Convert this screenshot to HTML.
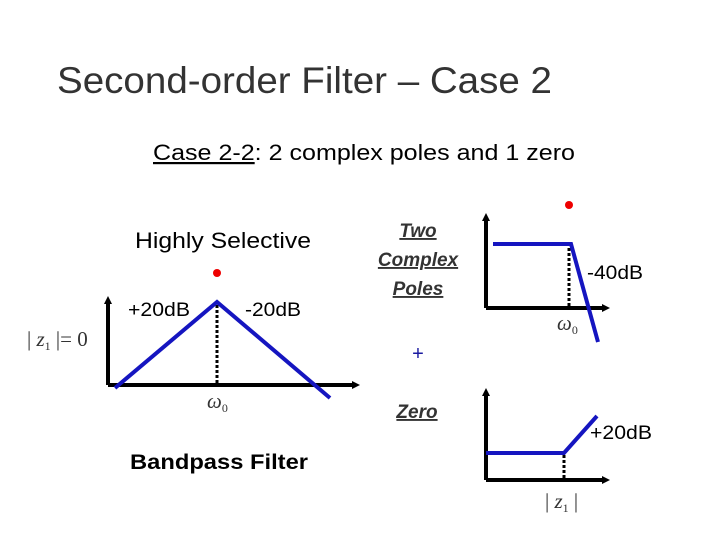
<!DOCTYPE html>
<html><head><meta charset="utf-8"><style>
body{margin:0;width:720px;height:540px;background:#fff;overflow:hidden;font-family:"Liberation Sans",sans-serif}
</style></head><body>
<svg width="720" height="540" xmlns="http://www.w3.org/2000/svg" font-family="Liberation Sans, sans-serif">
<defs><marker id="a" markerWidth="8" markerHeight="8" refX="4" refY="4" orient="auto" markerUnits="userSpaceOnUse"><path d="M0,0 L8,4 L0,8 z" fill="#000"/></marker></defs>
<text x="57" y="93" font-size="37" fill="#333" textLength="495" lengthAdjust="spacingAndGlyphs">Second-order Filter – Case 2</text>
<text x="153" y="160" font-size="22" textLength="422" lengthAdjust="spacingAndGlyphs"><tspan text-decoration="underline">Case 2-2</tspan>: 2 complex poles and 1 zero</text>
<text x="135" y="248" font-size="22" textLength="176" lengthAdjust="spacingAndGlyphs">Highly Selective</text>
<text x="130" y="469" font-size="21" font-weight="bold" textLength="178" lengthAdjust="spacingAndGlyphs">Bandpass Filter</text>
<g font-size="19" font-style="italic" font-weight="bold" text-anchor="middle" fill="#333" text-decoration="underline">
<text x="418" y="237">Two</text><text x="418" y="266">Complex</text><text x="418" y="295">Poles</text>
<text x="417" y="418">Zero</text></g>
<text x="418" y="360" font-size="20" fill="#1a1aa0" text-anchor="middle">+</text>
<line x1="108" y1="385" x2="108" y2="300" stroke="#000" stroke-width="4" marker-end="url(#a)"/>
<line x1="108" y1="385" x2="356" y2="385" stroke="#000" stroke-width="4" marker-end="url(#a)"/>
<line x1="217" y1="305" x2="217" y2="385" stroke="#000" stroke-width="3" stroke-dasharray="3,2"/>
<polyline points="115,388 217,302 330,398" fill="none" stroke="#1515c0" stroke-width="4"/>
<circle cx="217" cy="273" r="4" fill="#e00"/>
<text x="128" y="316" font-size="19" textLength="62" lengthAdjust="spacingAndGlyphs">+20dB</text>
<text x="245" y="316" font-size="19" textLength="56" lengthAdjust="spacingAndGlyphs">-20dB</text>
<text x="27" y="346" font-size="21" font-family="Liberation Serif,serif" fill="#333">| <tspan font-style="italic">z</tspan><tspan font-size="12" dy="4">1</tspan><tspan dy="-4"> |= 0</tspan></text>
<text x="207" y="408" font-size="21" font-family="Liberation Serif,serif" font-style="italic" fill="#333">ω<tspan font-size="12" dy="4" font-style="normal">0</tspan></text>
<line x1="486" y1="308" x2="486" y2="217" stroke="#000" stroke-width="4" marker-end="url(#a)"/>
<line x1="486" y1="308" x2="606" y2="308" stroke="#000" stroke-width="4" marker-end="url(#a)"/>
<line x1="569" y1="248" x2="569" y2="306" stroke="#000" stroke-width="3" stroke-dasharray="3,2"/>
<polyline points="493,244 571,244 598,342" fill="none" stroke="#1515c0" stroke-width="4"/>
<circle cx="569" cy="205" r="4" fill="#e00"/>
<text x="587" y="279" font-size="19" textLength="56" lengthAdjust="spacingAndGlyphs">-40dB</text>
<text x="557" y="330" font-size="21" font-family="Liberation Serif,serif" font-style="italic" fill="#333">ω<tspan font-size="12" dy="4" font-style="normal">0</tspan></text>
<line x1="486" y1="480" x2="486" y2="392" stroke="#000" stroke-width="4" marker-end="url(#a)"/>
<line x1="486" y1="480" x2="606" y2="480" stroke="#000" stroke-width="4" marker-end="url(#a)"/>
<line x1="564" y1="455" x2="564" y2="479" stroke="#000" stroke-width="3" stroke-dasharray="3,2"/>
<polyline points="486,453 564,453 597,416" fill="none" stroke="#1515c0" stroke-width="4"/>
<text x="590" y="439" font-size="19" textLength="62" lengthAdjust="spacingAndGlyphs">+20dB</text>
<text x="545" y="508" font-size="21" font-family="Liberation Serif,serif" fill="#333">| <tspan font-style="italic">z</tspan><tspan font-size="12" dy="4">1</tspan><tspan dy="-4"> |</tspan></text>
</svg>
</body></html>
